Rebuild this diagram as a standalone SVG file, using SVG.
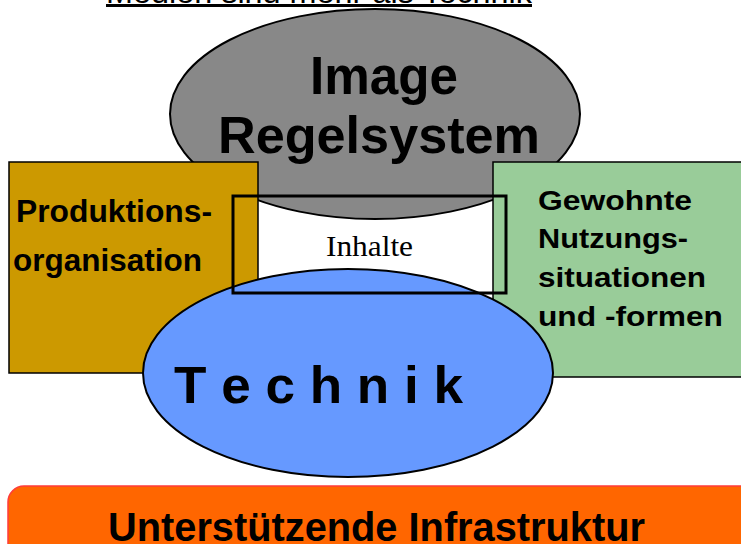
<svg xmlns="http://www.w3.org/2000/svg" width="741" height="544" viewBox="0 0 741 544">
<style>
.b{font-family:"Liberation Sans",Arial,sans-serif;font-weight:bold;fill:#000}
.node{stroke:#000;stroke-width:2}
</style>
<rect width="741" height="544" fill="#fff"/>
<g id="title">
<text x="106" y="2.5" font-family="Liberation Sans,Arial,sans-serif" font-size="32" textLength="426" lengthAdjust="spacingAndGlyphs">Medien sind mehr als Technik</text>
<line x1="106" y1="5.5" x2="532" y2="5.5" stroke="#000" stroke-width="3"/>
</g>
<g id="image">
<ellipse cx="375" cy="114" rx="205" ry="105" fill="#888888" class="node"/>
<text class="b" x="384" y="94" font-size="54" text-anchor="middle" textLength="148" lengthAdjust="spacingAndGlyphs">Image</text>
<text class="b" x="379" y="153" font-size="52" text-anchor="middle" textLength="322" lengthAdjust="spacingAndGlyphs">Regelsystem</text>
</g>
<g id="produktion">
<rect x="9" y="162" width="249" height="211" fill="#CC9900" stroke="#000" stroke-width="1.5"/>
<text class="b" x="16" y="222" font-size="31" textLength="196" lengthAdjust="spacingAndGlyphs">Produktions-</text>
<text class="b" x="13" y="271" font-size="31" textLength="189" lengthAdjust="spacingAndGlyphs">organisation</text>
</g>
<g id="nutzung">
<rect x="493" y="162" width="260" height="215" fill="#99CC99" stroke="#000" stroke-width="1.5"/>
<text class="b" x="538" y="210" font-size="27" textLength="154" lengthAdjust="spacingAndGlyphs">Gewohnte</text>
<text class="b" x="538" y="248" font-size="27" textLength="150" lengthAdjust="spacingAndGlyphs">Nutzungs-</text>
<text class="b" x="538" y="287" font-size="27" textLength="168" lengthAdjust="spacingAndGlyphs">situationen</text>
<text class="b" x="538" y="326" font-size="27" textLength="185" lengthAdjust="spacingAndGlyphs">und -formen</text>
</g>
<g id="technik">
<ellipse cx="348" cy="373" rx="205" ry="104" fill="#6699FF" class="node"/>
<text class="b" x="174" y="403" font-size="52" textLength="289" lengthAdjust="spacingAndGlyphs">T e c h n i k</text>
</g>
<g id="inhalte">
<rect x="233" y="196" width="273" height="97" fill="none" stroke="#000" stroke-width="3"/>
<text x="369.5" y="256" font-family="Liberation Serif,'Times New Roman',serif" font-size="30" text-anchor="middle" textLength="87" lengthAdjust="spacingAndGlyphs">Inhalte</text>
</g>
<g id="infrastruktur">
<rect x="8" y="486" width="760" height="90" rx="16" fill="#FF6600" stroke="#FF3B3B" stroke-width="1.5"/>
<text class="b" x="108" y="541" font-size="41" textLength="537" lengthAdjust="spacingAndGlyphs">Unterstützende Infrastruktur</text>
</g>
<g id="connectors"/>
</svg>
